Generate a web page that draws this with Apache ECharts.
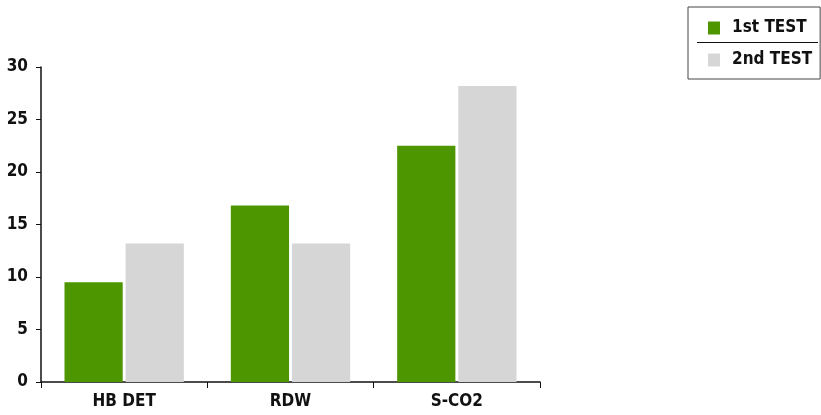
<!DOCTYPE html>
<html><head><meta charset="utf-8">
<script src="https://cdn.jsdelivr.net/npm/echarts@6/dist/echarts.min.js"></script>
<style>html,body{margin:0;padding:0;background:#fff}#c{width:821px;height:415px}</style>
</head><body><div id="c"></div>
<script>
var categories = ['HB DET', 'RDW', 'S-CO2'];
var test1 = [9.5, 16.8, 22.5];
var test2 = [13.2, 13.2, 28.2];
var seriesNames = ['1st TEST', '2nd TEST'];
var FONT = '"DejaVu Sans Condensed", "Liberation Sans Narrow", sans-serif';
var chart = echarts.init(document.getElementById('c'), null, {renderer: 'canvas'});
chart.setOption({
  animation: false,
  textStyle: {fontFamily: FONT},
  grid: {left: 41, right: 281, top: 67, bottom: 33, containLabel: false},
  legend: {
    orient: 'vertical', left: 688, top: 7,
    padding: [11, 8, 9, 20], itemGap: 12,
    itemWidth: 12, itemHeight: 13, icon: 'rect',
    borderColor: '#444', borderWidth: 1,
    textStyle: {fontFamily: FONT, fontWeight: 'bold', fontSize: 17, lineHeight: 20, color: '#111', padding: [0, 0, 0, 7]},
    data: seriesNames
  },
  graphic: [{type: 'line', shape: {x1: 697, y1: 42.5, x2: 818, y2: 42.5}, style: {stroke: '#111', lineWidth: 1}}],
  xAxis: {
    type: 'category', data: categories,
    axisLine: {lineStyle: {color: '#111', width: 1.5}},
    axisTick: {show: true, length: 6, lineStyle: {color: '#111'}},
    axisLabel: {fontFamily: FONT, fontWeight: 'bold', fontSize: 17, color: '#111', margin: 11}
  },
  yAxis: {
    type: 'value', min: 0, max: 30, interval: 5,
    splitLine: {show: false},
    axisLine: {show: true, lineStyle: {color: '#111', width: 1.5}},
    axisTick: {show: true, length: 5, lineStyle: {color: '#111'}},
    axisLabel: {fontFamily: FONT, fontWeight: 'bold', fontSize: 17, color: '#111', margin: 13}
  },
  series: [
    {name: seriesNames[0], type: 'bar', data: test1, barWidth: '35%', barGap: '5%', itemStyle: {color: '#4E9600'}},
    {name: seriesNames[1], type: 'bar', data: test2, barWidth: '35%', barGap: '5%', itemStyle: {color: '#D6D6D6'}}
  ]
});
</script></body></html>
